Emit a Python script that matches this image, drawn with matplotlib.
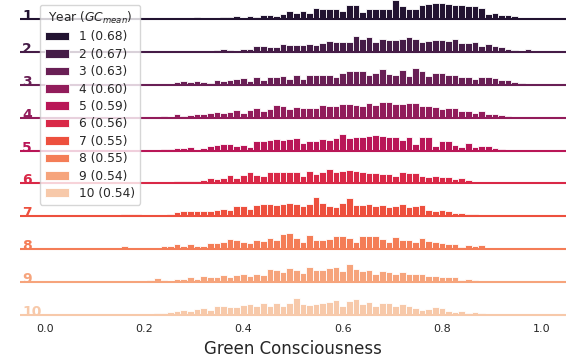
import matplotlib
matplotlib.use("Agg")
import matplotlib.pyplot as plt
import seaborn as sns
import numpy as np
from matplotlib.patches import Patch

# ---------------- data ----------------
years = [1, 2, 3, 4, 5, 6, 7, 8, 9, 10]
gc_mean = [0.68, 0.67, 0.63, 0.60, 0.59, 0.56, 0.55, 0.55, 0.54, 0.54]
bin_width = 1 / 75
start_bin = [23, 25, 20, 18, 18, 16, 12, 12, 16, 17]

counts_y1 = [2, 0, 0, 0, 1.7, 2, 3.3, 0, 3, 2, 4.3, 4.3, 3.3, 4.7, 8, 6, 8, 6, 11, 10.3,
             10.3, 10.3, 7.7, 14.3, 14.3, 7, 10.3, 10.3, 10.3, 10.3, 18.7, 12.7, 10.3, 10.3,
             13.7, 15, 16, 16, 15.3, 13.7, 14.3, 12.7, 12.7, 11, 5.3, 6, 4.3, 4.3, 2.7]
counts_y2 = [1, 2, 2.7, 2, 1, 2.7, 3.3, 6, 6, 5, 5, 8.3, 6.7, 6.7, 6.7, 8.3, 6.7, 9.3, 11, 10,
             10, 10, 16, 13.3, 15, 10, 13.3, 11.7, 11.5, 12.7, 15, 12.7, 10, 11, 12, 12, 11,
             12.7, 9.3, 9.3, 10, 6, 8.3, 6, 5, 3.3, 2, 0, 2.7]
counts_y3 = [2.7, 3.3, 2.3, 3.3, 2.7, 2, 4.3, 4, 5, 6, 6.7, 4, 7.3, 5, 7.7, 7.7, 8.7, 5.5, 9.3,
             6, 9.3, 10, 10, 9.3, 7.3, 11.7, 13.3, 13.3, 13.3, 9.3, 11.7, 15.7, 10.7, 9.3, 14.3,
             8.3, 16.7, 13.3, 8.3, 11.7, 11.7, 9.3, 10, 7.3, 7.3, 6, 7.7, 7.3, 6.7, 4.3, 4.3,
             2.7, 1.7]
counts_y4 = [1.7, 0, 3.7, 2, 2.7, 3.3, 3.3, 4.3, 5.3, 4.3, 6, 7.7, 5, 7.7, 10, 6.7, 8.3, 12.7,
             11.7, 9, 11, 10, 10, 10, 12.7, 12, 12, 13.7, 13.7, 12.7, 12, 15, 12.7, 16, 16, 13.3,
             13.3, 14.3, 15, 12, 12, 11, 8.7, 10, 9.3, 6.7, 6.7, 4.3, 6.7, 3.3, 3.3, 2.7, 2]
counts_y5 = [2, 2, 2.7, 2.7, 3.3, 0.5, 2.7, 4.3, 5.3, 7, 7, 4.3, 6, 3.3, 9.3, 9.3, 10.3, 11.7,
             10.3, 11.7, 12.7, 7.7, 9.3, 10, 11.7, 10.3, 12.3, 17, 12.7, 13.7, 13.7, 14.3, 15.3,
             14.3, 13.7, 13.7, 10.3, 13.3, 6.7, 13.3, 13.3, 4.3, 9.3, 10, 5.3, 3.3, 7.7, 3.3,
             4.3, 4.3, 2.7, 2, 1]
counts_y6 = [1.3, 0, 1.3, 1.7, 2.3, 2, 2, 2.3, 3.3, 5, 4.5, 5, 8.3, 5.7, 8.3, 11, 8.3, 7.7,
             11.7, 11.7, 11.7, 11.7, 11.7, 7.7, 12.3, 9, 11.7, 14.3, 11.7, 12.7, 13.3, 12.7, 11,
             10.7, 10.7, 9, 9, 7.3, 11.7, 10, 10, 7.3, 6.7, 7.7, 6.7, 6, 4.7, 5, 3.3, 1.7, 0.5,
             0.5, 0.5, 0.4]
counts_y7 = [2.3, 2.3, 2.3, 0, 1.7, 1.7, 1.7, 2.3, 4.3, 5.7, 5.7, 5.7, 5.7, 5.7, 6.7, 7.7, 6.3,
             10, 10, 7.7, 11.7, 12.3, 12.3, 11.7, 12.7, 13.3, 12.3, 10, 12.3, 19, 13.3, 10.7, 9.3,
             13.3, 18.3, 11.7, 11.7, 12.7, 10.7, 11.7, 9.3, 10.7, 12.7, 9.3, 10.7, 11.7, 6.7, 5,
             6.7, 5, 3.3, 3.3, 2.7, 2.3]
counts_y8 = [3.7, 0, 0, 0, 1.5, 0, 3.3, 3.7, 5, 3.7, 5, 3.7, 3.7, 6, 6, 7, 10.3, 9.3, 7.7, 6,
             9.3, 8.3, 11.7, 9.3, 15, 16, 11.7, 7.3, 14, 9.7, 9.7, 10.3, 13, 13, 11.7, 7.3, 13,
             13, 13, 10.7, 7.3, 12.3, 9.7, 9.7, 7.3, 11.3, 8.3, 7.3, 6.3, 5, 5.7, 2.3, 4, 3, 4,
             1.7]
counts_y9 = [1.7, 3.7, 1.7, 0.5, 3.3, 2.7, 5, 3.3, 6, 5, 5, 7, 5, 7, 8.3, 6, 8.3, 7, 12.7, 11.7,
             10, 14.3, 12.3, 9, 15, 12.3, 12.3, 14.3, 15, 10.7, 17.7, 13.3, 11, 12.3, 8.3, 11, 10,
             8.3, 10, 7.7, 7.7, 7.7, 5.7, 5.7, 5, 5, 5, 2.3, 3.3, 2.3]
counts_y10 = [1.7, 2.3, 2.7, 4, 5, 4.3, 6, 6.7, 5, 9, 9, 8.3, 7.7, 10, 11, 9, 11.7, 9, 11.7, 9,
              12, 16.7, 11, 10, 11, 12.3, 13.3, 15, 9, 14.3, 15.7, 11, 13.3, 9, 12.3, 12.3, 9,
              11, 9, 6.7, 5, 5.7, 8.3, 6.7, 4.3, 3.3, 4.3, 2.3, 3.3, 1.7]
counts = [counts_y1, counts_y2, counts_y3, counts_y4, counts_y5,
          counts_y6, counts_y7, counts_y8, counts_y9, counts_y10]

xticks = [0.0, 0.2, 0.4, 0.6, 0.8, 1.0]
xlabel = "Green Consciousness"
legend_title = "Year ($GC_{mean}$)"

# ---------------- plot ----------------
colors = sns.color_palette("rocket", len(years))
txt = "#262626"

fig = plt.figure(figsize=(5.78, 3.58), dpi=100)
ax = fig.add_axes([20 / 578, 40 / 358, 546 / 578, 318 / 358])
row_gap = 32.9
n = len(years)

for k, (yr, vals, s0) in enumerate(zip(years, counts, start_bin)):
    base = (n - 1 - k) * row_gap
    centers = (np.arange(len(vals)) + s0) * bin_width
    ax.bar(centers, vals, width=bin_width, bottom=base, color=colors[k],
           edgecolor="white", linewidth=0.6, zorder=2)
    ax.axhline(base, color=colors[k], lw=1.5, zorder=3)
    ax.text(-0.046, base - 1, str(yr), color=colors[k], fontsize=10,
            fontweight="bold", ha="left", va="baseline", zorder=4)

ax.set_xlim(-0.05, 1.05)
ax.set_ylim(-3, 315)
ax.set_yticks([])
ax.set_xticks(xticks)
ax.set_xticklabels([f"{t:.1f}" for t in xticks])
ax.tick_params(axis="x", length=0, labelsize=8, labelcolor=txt, pad=4)
ax.set_xlabel(xlabel, fontsize=12, color=txt, labelpad=5)
for sp in ax.spines.values():
    sp.set_visible(False)

handles = [Patch(facecolor=colors[k], edgecolor="white", linewidth=0.6) for k in range(n)]
labels = [f"{yr} ({m:.2f})" for yr, m in zip(years, gc_mean)]
leg = ax.legend(handles, labels, title=legend_title, loc="upper left",
                bbox_to_anchor=(40 / 578, 1 - 5 / 358), bbox_transform=fig.transFigure,
                borderaxespad=0, fontsize=8.8, title_fontsize=8.8, framealpha=0.8,
                labelspacing=0.36, handlelength=2.0, labelcolor=txt)
leg.get_title().set_color(txt)

fig.savefig("out.png", dpi=100)
